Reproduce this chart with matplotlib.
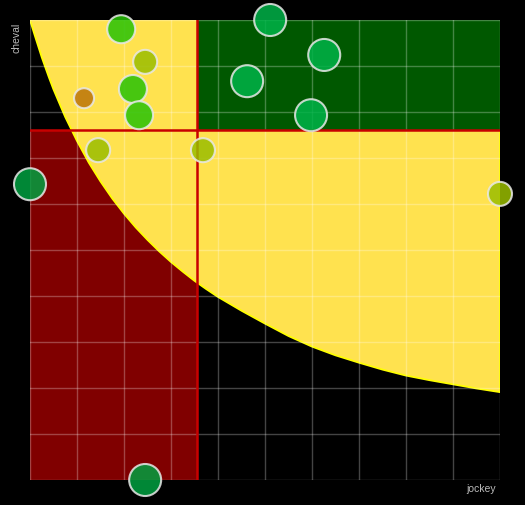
import matplotlib.pyplot as plt
from matplotlib.patches import Rectangle

# bubbles: jockey score (x), cheval score (y), bubble size, colour
jockey = [1.94, 2.45, 2.19, 2.32, 1.15, 1.45, 3.68, 0.0, 5.11, 6.26, 4.62, 5.98, 10.0, 2.45]
cheval = [9.80, 9.09, 8.50, 7.93, 8.30, 7.17, 7.17, 6.43, 10.0, 9.24, 8.67, 7.93, 6.22, 0.0]
taille = [14, 12, 14, 14, 10, 12, 12, 16, 16, 16, 16, 16, 12, 16]
couleurs = ['#27c205', '#9abd01', '#27c205', '#27c205', '#bb7409', '#9abd01', '#9abd01',
            '#00a040', '#00b348', '#00b348', '#00b348', '#00b348', '#9abd01', '#00a040']

# seuils
seuil_jockey = 3.55
seuil_cheval = 7.61

# frontière de la zone jaune
courbe_x = [0, 0.1, 0.25, 0.4, 0.5, 0.75, 1.0, 1.25, 1.5, 1.75, 2.0, 2.25, 2.5, 2.75, 3.0,
            3.25, 3.5, 3.75, 4.0, 4.5, 5.0, 5.5, 6.0, 6.5, 7.0, 7.5, 8.0, 8.5, 9.0, 9.5, 10.0]
courbe_y = [10.0, 9.67, 9.19, 8.76, 8.49, 7.89, 7.37, 6.90, 6.49, 6.12, 5.79, 5.49, 5.22,
            4.97, 4.74, 4.53, 4.33, 4.15, 3.98, 3.68, 3.40, 3.13, 2.90, 2.71, 2.55, 2.40,
            2.27, 2.17, 2.08, 1.99, 1.91]

fig = plt.figure(figsize=(5.25, 5.05), dpi=100, facecolor='black')
ax = fig.add_axes([30 / 525, 25 / 505, 470 / 525, 460 / 505])
ax.set_facecolor('black')
ax.set_xlim(0, 10)
ax.set_ylim(0, 10)

# zone rouge
ax.add_patch(Rectangle((0, 0), seuil_jockey, seuil_cheval, facecolor='#800000', edgecolor='none', zorder=1))
# zone jaune
poly_x = courbe_x + [10, 0]
poly_y = courbe_y + [10, 10]
ax.fill(poly_x, poly_y, facecolor='#ffe24f', edgecolor='none', zorder=2)
ax.plot(courbe_x + [10], courbe_y + [10], color='#ffff00', lw=1.3, zorder=2.5)
# zone verte
ax.add_patch(Rectangle((seuil_jockey, seuil_cheval), 10 - seuil_jockey, 10 - seuil_cheval,
                       facecolor='#005800', edgecolor='none', zorder=3))

# grille
for v in range(11):
    ax.axvline(v, color='white', alpha=0.27, lw=1, zorder=4)
    ax.axhline(v, color='white', alpha=0.27, lw=1, zorder=4)

ax.plot([seuil_jockey, seuil_jockey], [0, 10], color='#c80000', lw=1.8, zorder=5)
ax.plot([0, 10], [seuil_cheval, seuil_cheval], color='#c80000', lw=1.8, zorder=5)

sizes = [(2 * r * 0.72) ** 2 for r in taille]
ax.scatter(jockey, cheval, s=sizes, c=couleurs, alpha=0.85, edgecolors='#e8e8e8',
           linewidths=1.5, zorder=6, clip_on=False)

for s in ax.spines.values():
    s.set_visible(False)
ax.set_xticks([])
ax.set_yticks([])

fig.text(16 / 525, 1 - 38 / 505, 'cheval', rotation=90, color='#bbbbbb', fontsize=7.5,
         family='Liberation Sans', ha='center', va='center')
fig.text(496 / 525, 1 - 489 / 505, 'jockey', color='#bbbbbb', fontsize=7.5,
         family='Liberation Sans', ha='right', va='center')

fig.savefig('out.png', dpi=100, facecolor='black')
